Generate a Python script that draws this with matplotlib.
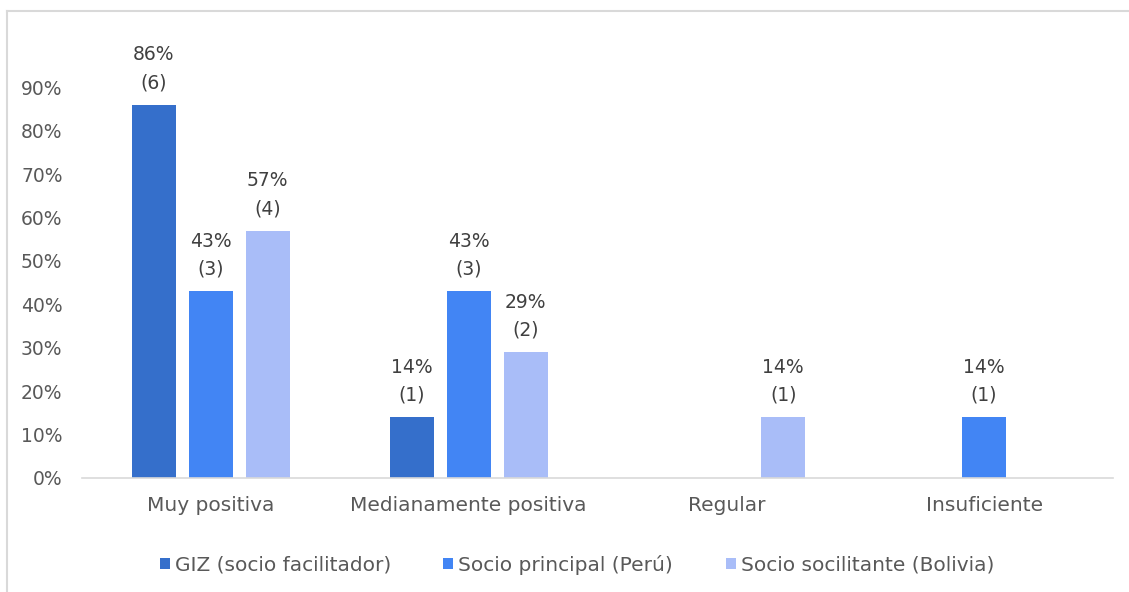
import matplotlib.pyplot as plt
import numpy as np
from matplotlib.lines import Line2D

categorias = ["Muy positiva", "Medianamente positiva", "Regular", "Insuficiente"]
series = ["GIZ (socio facilitador)", "Socio principal (Perú)", "Socio socilitante (Bolivia)"]
porcentajes = [
    [0.86, 0.14, 0.0, 0.0],
    [0.43, 0.43, 0.0, 0.14],
    [0.57, 0.29, 0.14, 0.0],
]
conteos = [
    [6, 1, 0, 0],
    [3, 3, 0, 1],
    [4, 2, 1, 0],
]
colores = ["#356FCB", "#4285F4", "#A9BDF8"]

plt.rcParams['font.family'] = ['DejaVu Sans']
gris = "#595959"

fig = plt.figure(figsize=(11.29, 5.92), dpi=100)
ax = fig.add_axes([0.0726, 0.1926, 0.9132, 0.7331])

x = np.arange(len(categorias))
ancho = 0.171
desplaz = 0.221

for i, (nombre, vals, ns, col) in enumerate(zip(series, porcentajes, conteos, colores)):
    pos = x + (i - 1) * desplaz
    ax.bar(pos, vals, width=ancho, color=col, label=nombre)
    for p, v, n in zip(pos, vals, ns):
        if n > 0:
            ax.annotate(f"{round(v*100)}%\n({n})", (p, v), xytext=(0, 9),
                        textcoords="offset points", ha="center", va="bottom",
                        fontsize=13.5, color="#404040", linespacing=1.6)

ax.set_xlim(-0.5, len(categorias) - 0.5)
ax.set_ylim(0, 1.0)
ax.set_yticks(np.arange(0, 1.0, 0.1))
ax.set_yticklabels([f"{int(round(t*100))}%" for t in np.arange(0, 1.0, 0.1)])
ax.set_xticks(x)
ax.set_xticklabels(categorias)
ax.tick_params(axis="both", length=0, labelsize=13.5, colors=gris)
ax.tick_params(axis="x", pad=13, labelsize=14.5)
ax.tick_params(axis="y", pad=14)
for s in ["top", "right", "left"]:
    ax.spines[s].set_visible(False)
ax.spines["bottom"].set_color("#D9D9D9")
ax.spines["bottom"].set_linewidth(1.2)

leg = ax.legend(loc="center", bbox_to_anchor=(0.48, -0.2), ncol=3, frameon=False,
                fontsize=14.5, handlelength=0.5, handleheight=0.5, handletextpad=0.25,
                columnspacing=2.6)
for t in leg.get_texts():
    t.set_color(gris)

# borde del gráfico
fig.add_artist(Line2D([7/1129, 7/1129], [0, 1 - 11/592], color="#D9D9D9", lw=1.5))
fig.add_artist(Line2D([7/1129, 1], [1 - 11/592, 1 - 11/592], color="#D9D9D9", lw=1.5))

fig.savefig("out.png", dpi=100)
